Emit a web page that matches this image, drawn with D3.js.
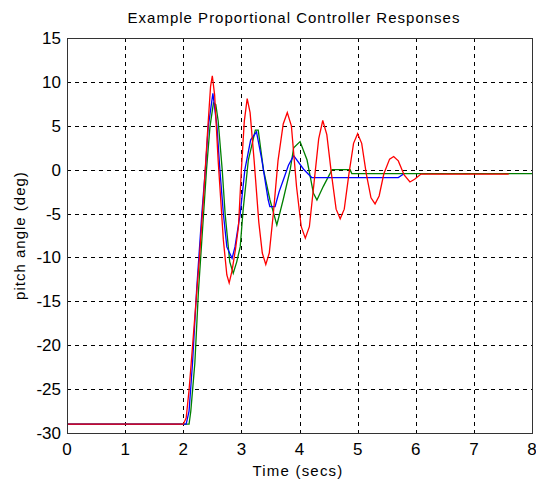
<!DOCTYPE html>
<html>
<head>
<meta charset="utf-8">
<script src="https://cdn.jsdelivr.net/npm/d3@7"></script>
<style>
  body { margin: 0; background: #fff; }
  text { font-family: "Liberation Sans", Arial, sans-serif; fill: #000; }
</style>
</head>
<body>
<div id="chart"></div>
<script>
// Response data (time in secs, pitch angle in deg).
const redTime = [0, 2.0, 2.05, 2.1, 2.16, 2.22, 2.28, 2.35, 2.42, 2.47, 2.5, 2.54, 2.6, 2.69, 2.75, 2.79, 2.84, 2.9, 2.95, 3.0, 3.05, 3.1, 3.15, 3.22, 3.3, 3.36, 3.42, 3.48, 3.55, 3.63, 3.72, 3.79, 3.86, 3.95, 4.03, 4.1, 4.17, 4.25, 4.33, 4.4, 4.47, 4.55, 4.63, 4.7, 4.77, 4.85, 4.93, 5.0, 5.07, 5.15, 5.23, 5.3, 5.37, 5.45, 5.55, 5.62, 5.7, 5.8, 5.9, 5.98, 6.09, 7.6]
const redAngle = [-29, -29, -28.3, -25.1, -20.1, -15, -9.9, -3, 4.5, 9.5, 10.7, 8.5, 1.1, -8, -12, -12.9, -11.5, -9, -6.5, 0, 5.5, 8.1, 6.5, 1, -6, -9.5, -10.8, -9.5, -5, 1, 5.2, 6.5, 5, -2, -6.5, -7.8, -6.5, -1.5, 3.5, 5.6, 4, -0.5, -4.5, -5.6, -4.5, -0.5, 3, 4.1, 3, -0.5, -3.2, -3.9, -3, -0.5, 1.2, 1.5, 1, -0.6, -1.4, -1.1, -0.5, -0.5]

const greenTime = [0, 2.1, 2.13, 2.2, 2.26, 2.35, 2.4, 2.46, 2.52, 2.56, 2.6, 2.67, 2.72, 2.8, 2.86, 2.92, 2.98, 3.03, 3.12, 3.24, 3.29, 3.38, 3.49, 3.61, 3.72, 3.84, 3.9, 4.01, 4.13, 4.24, 4.3, 4.41, 4.56, 4.87, 4.9, 8]
const greenAngle = [-29, -29, -27.5, -22, -14, -5, 0, 4.9, 7.6, 7.4, 5.6, 0, -5, -10.5, -11.8, -10.5, -8.8, -4.6, 1.1, 4.5, 4.5, 0, -3.4, -6.3, -3.4, 0, 2.5, 3.2, 1.1, -2.7, -3.45, -1.9, 0, 0, -0.45, -0.45]

const blueTime = [0, 2.05, 2.1, 2.16, 2.23, 2.32, 2.38, 2.43, 2.51, 2.58, 2.63, 2.69, 2.75, 2.84, 2.89, 2.98, 3.06, 3.16, 3.26, 3.35, 3.46, 3.49, 3.58, 3.65, 3.72, 3.81, 3.9, 4.07, 4.21, 5.7, 5.79]
const blueAngle = [-29, -29, -27.5, -22, -13.7, -5, 0, 4.9, 8.7, 4.9, 0, -5, -8.8, -10.1, -8.8, -5, 0, 3.4, 4.3, 1.2, -3.4, -4.2, -4.2, -2.5, -1.2, 0.5, 1.6, 0.05, -0.9, -0.9, -0.5]

const xTicks = [0, 1, 2, 3, 4, 5, 6, 7, 8]
const yTicks = [-30, -25, -20, -15, -10, -5, 0, 5, 10, 15]

const plot = {left: 67, right: 532, top: 38, bottom: 433}

/**
 * Builds a d3 line from a time array and an angle array.
 */
const _createLine = (xScale, yScale, times, angles) => {
  return d3.line()
    .x((d, i) => xScale(times[i]))
    .y((d, i) => yScale(angles[i]))
}

const drawChart = (dom) => {
  const svg = d3.select(dom)
    .append("svg")
    .attr("width", 536)
    .attr("height", 481)

  svg.append("rect").attr("width", 536).attr("height", 481).attr("fill", "#fff")

  const xScale = d3.scaleLinear().domain([0, 8]).range([plot.left, plot.right])
  const yScale = d3.scaleLinear().domain([-30, 15]).range([plot.bottom, plot.top])

  // Dashed grid lines (skip the ones on the frame).
  svg.append("g").selectAll("line")
    .data(xTicks.slice(1, -1))
    .join("line")
    .attr("x1", d => Math.round(xScale(d)) + 0.5)
    .attr("x2", d => Math.round(xScale(d)) + 0.5)
    .attr("y1", plot.top)
    .attr("y2", plot.bottom)
    .attr("stroke", "#000")
    .attr("stroke-dasharray", "4,4")

  svg.append("g").selectAll("line")
    .data(yTicks.slice(1, -1))
    .join("line")
    .attr("y1", d => Math.round(yScale(d)) + 0.5)
    .attr("y2", d => Math.round(yScale(d)) + 0.5)
    .attr("x1", plot.left)
    .attr("x2", plot.right)
    .attr("stroke", "#000")
    .attr("stroke-dasharray", "4,4")

  // Response lines: green first, blue over it, red on top.
  const series = [
    [greenTime, greenAngle, "#008000"],
    [blueTime, blueAngle, "#0000ff"],
    [redTime, redAngle, "#ff0000"]
  ]
  series.forEach(s => {
    svg.append("path")
      .datum(s[0])
      .attr("d", _createLine(xScale, yScale, s[0], s[1]))
      .attr("fill", "none")
      .attr("stroke", s[2])
      .attr("stroke-width", 1.3)
  })

  // Frame around the plot area.
  svg.append("rect")
    .attr("x", plot.left + 0.5)
    .attr("y", plot.top + 0.5)
    .attr("width", plot.right - plot.left)
    .attr("height", plot.bottom - plot.top)
    .attr("fill", "none")
    .attr("stroke", "#333")

  // Tick labels.
  svg.append("g").selectAll("text")
    .data(xTicks)
    .join("text")
    .attr("x", d => xScale(d))
    .attr("y", 455)
    .attr("text-anchor", "middle")
    .style("font-size", "17px")
    .text(d => d)

  svg.append("g").selectAll("text")
    .data(yTicks)
    .join("text")
    .attr("x", 61)
    .attr("y", d => yScale(d) + 6)
    .attr("text-anchor", "end")
    .style("font-size", "17px")
    .text(d => d)

  // Title and axis labels (the original font is wider, hence the letter spacing).
  svg.append("text")
    .attr("x", 294)
    .attr("y", 23)
    .attr("text-anchor", "middle")
    .style("font-size", "15px")
    .style("letter-spacing", "1px")
    .text("Example Proportional Controller Responses")

  svg.append("text")
    .attr("x", 298)
    .attr("y", 476)
    .attr("text-anchor", "middle")
    .style("font-size", "15px")
    .style("letter-spacing", "1.2px")
    .text("Time (secs)")

  svg.append("text")
    .attr("transform", "translate(25," + ((plot.top + plot.bottom) / 2) + ") rotate(-90)")
    .attr("text-anchor", "middle")
    .style("font-size", "15px")
    .style("letter-spacing", "1px")
    .text("pitch angle (deg)")
}

drawChart(document.getElementById("chart"))
</script>
</body>
</html>
